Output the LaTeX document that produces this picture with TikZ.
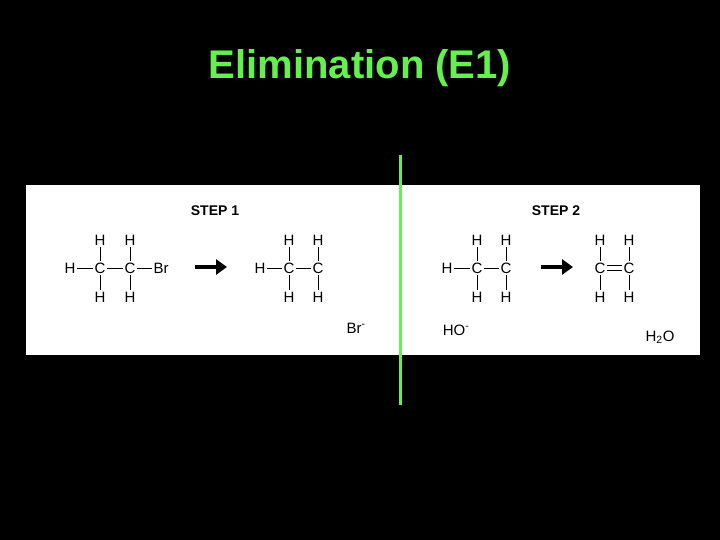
\documentclass[tikz,border=0pt]{standalone}
\usepackage{fontspec}
\setmainfont{Liberation Sans}
\usetikzlibrary{arrows.meta}
\begin{document}
\begin{tikzpicture}[x=1pt,y=-1pt,
  atm/.style={inner sep=1.5pt,font=\fontsize{15}{15}\selectfont},
  bd/.style={line width=0.7pt},
  rxn/.style={line width=4pt,-{Triangle[length=11pt,width=15pt]}},
  lbl/.style={font=\bfseries\fontsize{14}{14}\selectfont}]
\fill[black] (0,0) rectangle (720,540);
\useasboundingbox (0,0) rectangle (720,540);
\node[font=\bfseries\fontsize{40}{40}\selectfont,text={rgb,255:red,102;green,240;blue,80}] (title) at (360,68) {Elimination (E1)};
\fill[white] (26,185) rectangle (700,355);
\node[lbl] (s1) at (215,211) {STEP 1};
\node[lbl] (s2) at (556,211) {STEP 2};
% molecule 1
\node[atm] (a1) at (70,268) {H};
\node[atm] (a2) at (100,268) {C};
\node[atm] (a3) at (130,268) {C};
\node[atm] (a4) at (161,268) {Br};
\node[atm] (a5) at (100,240) {H};
\node[atm] (a6) at (130,240) {H};
\node[atm] (a7) at (100,297) {H};
\node[atm] (a8) at (130,297) {H};
\draw[bd] (a1)--(a2) (a2)--(a3) (a3)--(a4) (a5)--(a2) (a2)--(a7) (a6)--(a3) (a3)--(a8);
\coordinate (r1s) at (195,267); \coordinate (r1e) at (227,267);
\draw[rxn] (r1s)--(r1e);
% molecule 2
\node[atm] (b1) at (260,268) {H};
\node[atm] (b2) at (289,268) {C};
\node[atm] (b3) at (318,268) {C};
\node[atm] (b5) at (289,240) {H};
\node[atm] (b6) at (318,240) {H};
\node[atm] (b7) at (289,297) {H};
\node[atm] (b8) at (318,297) {H};
\draw[bd] (b1)--(b2) (b2)--(b3) (b5)--(b2) (b2)--(b7) (b6)--(b3) (b3)--(b8);
\node[atm] (br) at (356,328) {Br\textsuperscript{-}};
% molecule 3
\node[atm] (c1) at (447,268) {H};
\node[atm] (c2) at (477,268) {C};
\node[atm] (c3) at (506,268) {C};
\node[atm] (c5) at (477,240) {H};
\node[atm] (c6) at (506,240) {H};
\node[atm] (c7) at (477,297) {H};
\node[atm] (c8) at (506,297) {H};
\draw[bd] (c1)--(c2) (c2)--(c3) (c5)--(c2) (c2)--(c7) (c6)--(c3) (c3)--(c8);
\node[atm] (ho) at (456,330) {HO\textsuperscript{-}};
\coordinate (r2s) at (541,267); \coordinate (r2e) at (573,267);
\draw[rxn] (r2s)--(r2e);
% molecule 4
\node[atm] (d2) at (600,268) {C};
\node[atm] (d3) at (629,268) {C};
\node[atm] (d5) at (600,240) {H};
\node[atm] (d6) at (629,240) {H};
\node[atm] (d7) at (600,297) {H};
\node[atm] (d8) at (629,297) {H};
\draw[bd] ([yshift=-2.2]d2.east)--([yshift=-2.2]d3.west) ([yshift=2.2]d2.east)--([yshift=2.2]d3.west)
  (d5)--(d2) (d2)--(d7) (d6)--(d3) (d3)--(d8);
\node[atm] (w) at (660,337) {H\textsubscript{2}O};
% divider
\coordinate (g1) at (400,155); \coordinate (g2) at (400,405);
\draw[line width=3pt,draw={rgb,255:red,102;green,240;blue,80}] (g1)--(g2);
\end{tikzpicture}
\end{document}
